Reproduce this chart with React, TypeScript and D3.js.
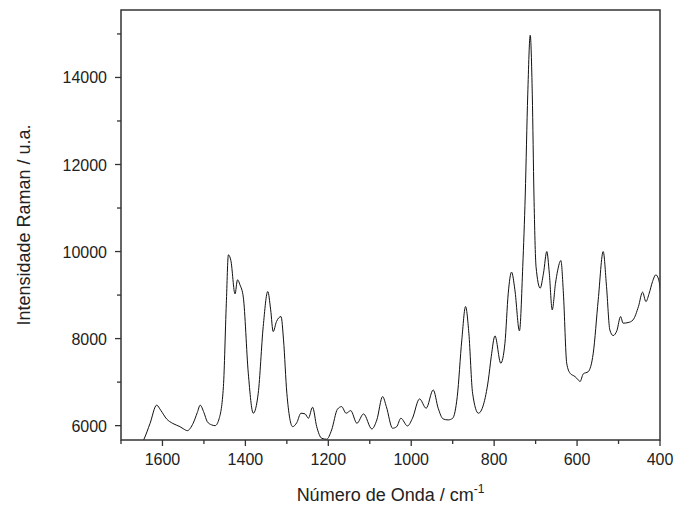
import React from "react";
import * as d3 from "d3";

const wavenumber = [
  1660, 1645, 1630, 1614, 1604, 1590, 1575, 1558, 1550, 1540, 1526, 1516, 1509, 1500, 1492, 1482, 1473, 1463, 1453,
  1446, 1441, 1435, 1425, 1419, 1413, 1405, 1393, 1381, 1369, 1357, 1346, 1339, 1333, 1325, 1314, 1308, 1300,
  1286, 1276, 1266, 1256, 1248, 1238, 1228, 1216, 1204, 1192, 1178, 1168, 1157, 1146, 1131, 1115, 1095, 1083,
  1069, 1060, 1045, 1035, 1025, 1009, 997, 980, 964, 947, 935, 923, 911, 900, 889, 878, 869, 861, 852, 838,
  826, 814, 807, 798, 784, 774, 766, 758, 750, 739, 731, 725, 719, 713, 708, 704, 699, 689, 681, 673, 667, 660,
  652, 647, 639, 633, 625, 617, 605, 597, 593, 585, 573, 561, 549, 537, 529, 521, 513, 504, 495, 489, 477, 465,
  452, 442, 434, 426, 418, 410, 403, 398
];

const intensity = [
  5450, 5680, 6050, 6470, 6350, 6154, 6050, 5977, 5930, 5885, 6055, 6300, 6470, 6300, 6092, 6020, 6000, 6170, 6897,
  8800, 9924, 9793, 9028, 9350, 9235, 8952, 7205, 6285, 6745, 8276, 9081, 8660, 8161, 8391, 8506, 7970, 6745,
  5977, 6069, 6285, 6269, 6170, 6423, 5977, 5710, 5687, 5901, 6377, 6437, 6285, 6345, 6055, 6269, 5924, 6131,
  6667, 6437, 5940, 5977, 6170, 5993, 6170, 6614, 6400, 6821, 6400, 6154, 6131, 6170, 6667, 7970, 8736, 8124, 6745, 6285,
  6476, 7051, 7586, 8062, 7434, 7894, 9044, 9527, 9120, 8177, 9655, 11300, 13600, 14970, 13600, 11300, 9655, 9159, 9503, 10000, 9503, 8660,
  9274, 9557, 9793, 9044, 7434, 7205, 7127, 7050, 7012, 7189, 7241, 7664, 8890, 10000, 9196, 8200, 8069, 8184, 8506, 8354, 8368, 8430,
  8736, 9067, 8851, 9044, 9311, 9465, 9350, 9000
];

const xTicks = [1600, 1400, 1200, 1000, 800, 600, 400];
const xMinorTicks = [1700, 1500, 1300, 1100, 900, 700, 500];
const yTicks = [6000, 8000, 10000, 12000, 14000];
const yMinorTicks = [7000, 9000, 11000, 13000, 15000];

export default function App() {
  const W = 677, H = 516;
  const L = 121, R = 660, T = 10, B = 440;
  const x = d3.scaleLinear().domain([1700, 400]).range([L, R]);
  const y = d3.scaleLinear().domain([5670, 15550]).range([B, T]);
  const pts = wavenumber.map((w, i) => [w, intensity[i]] as [number, number]);
  const line = d3.line<[number, number]>()
    .x(d => x(d[0]))
    .y(d => y(d[1]))
    .curve(d3.curveMonotoneX);
  const font = "'Liberation Sans', Arial, sans-serif";
  return (
    <svg width={W} height={H} style={{ position: "absolute", left: 0, top: 0 }} fontFamily={font}>
      <defs>
        <clipPath id="plot">
          <rect x={L} y={T} width={R - L} height={B - T} />
        </clipPath>
      </defs>
      <rect x={0} y={0} width={W} height={H} fill="#fff" />
      <path d={line(pts) || ""} fill="none" stroke="#111" strokeWidth={1} clipPath="url(#plot)" />
      <rect x={L} y={T} width={R - L} height={B - T} fill="none" stroke="#333" strokeWidth={1.5} />
      {xTicks.map(t => (
        <g key={"xt" + t}>
          <line x1={x(t)} x2={x(t)} y1={B} y2={B + 6} stroke="#333" strokeWidth={1.3} />
          <text x={x(t)} y={B + 25} textAnchor="middle" fontSize={16} fill="#222">{t}</text>
        </g>
      ))}
      {xMinorTicks.map(t => (
        <line key={"xm" + t} x1={x(t)} x2={x(t)} y1={B} y2={B + 4} stroke="#333" strokeWidth={1.3} />
      ))}
      {yTicks.map(t => (
        <g key={"yt" + t}>
          <line x1={L - 6} x2={L} y1={y(t)} y2={y(t)} stroke="#333" strokeWidth={1.3} />
          <text x={L - 14} y={y(t) + 6} textAnchor="end" fontSize={16} fill="#222">{t}</text>
        </g>
      ))}
      {yMinorTicks.map(t => (
        <line key={"ym" + t} x1={L - 4} x2={L} y1={y(t)} y2={y(t)} stroke="#333" strokeWidth={1.3} />
      ))}
      <text x={(L + R) / 2} y={501} textAnchor="middle" fontSize={18} fill="#222">
        Número de Onda / cm<tspan dy={-8} fontSize={12}>-1</tspan>
      </text>
      <text transform={`translate(30, ${(T + B) / 2}) rotate(-90)`} textAnchor="middle" fontSize={18} fill="#222">
        Intensidade Raman / u.a.
      </text>
    </svg>
  );
}
